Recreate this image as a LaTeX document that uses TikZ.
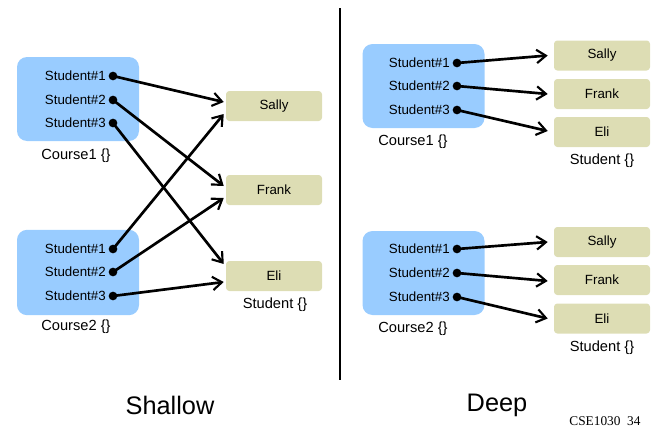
\documentclass[tikz,border=0pt]{standalone}
\usepackage{fontspec}
\setmainfont{Liberation Sans}
\newfontfamily\serifnum{Liberation Serif}
\usetikzlibrary{arrows.meta,calc}
\definecolor{cblue}{RGB}{153,204,255}
\definecolor{sbeige}{RGB}{221,221,180}
\tikzset{
  coursebox/.style={fill=cblue,rounded corners=7.5pt,minimum width=91.5pt,minimum height=63pt,inner sep=0pt},
  studbox/.style={fill=sbeige,rounded corners=2.5pt,minimum width=72pt,minimum height=22.5pt,inner sep=0pt,font=\fontsize{10}{12}\selectfont},
  reflabel/.style={anchor=east,inner sep=0pt,font=\fontsize{10}{12}\selectfont},
  dotpt/.style={circle,fill=black,minimum size=6.5pt,inner sep=0pt},
  caption/.style={inner sep=0pt,font=\fontsize{11}{13}\selectfont},
  ptr/.style={line width=2pt,-{Straight Barb[length=7pt,width=10pt,line width=1.6pt]}},
  bigtitle/.style={inner sep=0pt,font=\fontsize{19}{22}\selectfont}
}
\begin{document}
\begin{tikzpicture}[x=0.75pt,y=-0.75pt]
\useasboundingbox (0,0) rectangle (658,432);
% divider
\coordinate (divtop) at (340,8);
\coordinate (divbot) at (340,380);
\draw[line width=0.8pt] (divtop) -- (divbot);

% ---------------- Shallow ----------------
\node[coursebox] (c1) at (78,99) {};
\node[coursebox,minimum height=64pt] (c2) at (78,272.5) {};
\node[caption] (c1lab) at (76,156) {Course1 \{\}};
\node[caption] (c2lab) at (76,327) {Course2 \{\}};
\foreach \n/\y in {1/76,2/100,3/123}{
  \node[reflabel] (l1\n) at (106,\y) {Student\#\n};
  \node[dotpt] (d1\n) at (113,\y) {};
}
\foreach \n/\y in {1/249,2/272,3/296}{
  \node[reflabel] (l2\n) at (106,\y) {Student\#\n};
  \node[dotpt] (d2\n) at (113,\y) {};
}
\node[studbox] (sa) at (274,106) {Sally};
\node[studbox] (fr) at (274,190) {Frank};
\node[studbox] (el) at (274,276) {Eli};
\node[caption] (slab) at (275,305) {Student \{\}};

\draw[ptr] (d11.center) -- ($(sa.west)+(-2,-4)$);
\draw[ptr] (d12.center) -- ($(fr.west)+(-2,-4)$);
\draw[ptr] (d13.center) -- ($(el.west)+(-2,-12)$);
\draw[ptr] (d21.center) -- ($(sa.west)+(-2,8)$);
\draw[ptr] (d22.center) -- ($(fr.west)+(-2,8)$);
\draw[ptr] (d23.center) -- ($(el.west)+(-2,6)$);

% ---------------- Deep ----------------
\node[coursebox] (c3) at (423.5,86) {};
\node[coursebox] (c4) at (423.5,273) {};
\node[caption] (c3lab) at (413,142) {Course1 \{\}};
\node[caption] (c4lab) at (413,329) {Course2 \{\}};
\foreach \n/\y in {1/63,2/86,3/110}{
  \node[reflabel] (l3\n) at (450,\y) {Student\#\n};
  \node[dotpt] (d3\n) at (457,\y) {};
}
\foreach \n/\y in {1/249,2/273,3/297}{
  \node[reflabel] (l4\n) at (450,\y) {Student\#\n};
  \node[dotpt] (d4\n) at (457,\y) {};
}
\node[studbox] (sa1) at (602,55.5) {Sally};
\node[studbox] (fr1) at (602,94) {Frank};
\node[studbox] (el1) at (602,132) {Eli};
\node[caption] (s1lab) at (602,161) {Student \{\}};
\node[studbox] (sa2) at (602,242) {Sally};
\node[studbox] (fr2) at (602,280) {Frank};
\node[studbox] (el2) at (602,318.5) {Eli};
\node[caption] (s2lab) at (602,348) {Student \{\}};

\draw[ptr] (d31.center) -- ($(sa1.west)+(-6,0)$);
\draw[ptr] (d32.center) -- ($(fr1.west)+(-6,0)$);
\draw[ptr] (d33.center) -- ($(el1.west)+(-6,-1)$);
\draw[ptr] (d41.center) -- ($(sa2.west)+(-6,0)$);
\draw[ptr] (d42.center) -- ($(fr2.west)+(-6,1)$);
\draw[ptr] (d43.center) -- ($(el2.west)+(-6,0)$);

% titles
\node[bigtitle] (tshallow) at (170,405) {Shallow};
\node[bigtitle] (tdeep) at (497,405) {Deep};
\node[inner sep=0pt,font=\serifnum\fontsize{10}{12}\selectfont] (pg) at (605,421) {CSE1030\ \ 34};
\end{tikzpicture}
\end{document}
